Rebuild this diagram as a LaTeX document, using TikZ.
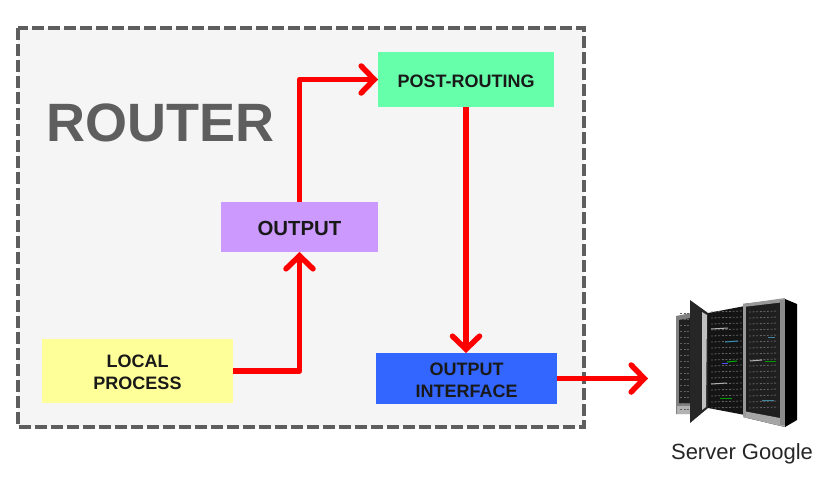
\documentclass[tikz,border=0pt]{standalone}
\usepackage{fontspec}
\setmainfont{Liberation Sans}
\usetikzlibrary{arrows.meta,positioning}
\definecolor{rbg}{HTML}{F5F5F5}
\definecolor{rdash}{HTML}{5E5E5E}
\definecolor{ylw}{HTML}{FFFF99}
\definecolor{pur}{HTML}{CC99FF}
\definecolor{grn}{HTML}{66FFAA}
\definecolor{blu}{HTML}{3366FF}
\definecolor{arrred}{HTML}{FF0000}
\tikzset{
 x=1pt,y=-1pt,
 routerbox/.style={draw=rdash,fill=rbg,line width=3.6pt,dash pattern=on 12pt off 4pt},
 stagebox/.style={anchor=north west,inner sep=0pt,outer sep=0pt,text=black!90},
 flow/.style={draw=arrred,line width=5.5pt,line join=round,-{Straight Barb[length=13pt,width=27pt,line width=5.5pt,line cap=round]}},
 led/.style={line width=1pt},
 rackrow/.style={line width=.8pt,black!62,dash pattern=on 2pt off 1.6pt},
}
\newcommand{\stage}[7]{\node[stagebox,fill=#2,minimum width=#5pt,minimum height=#6pt] (#1) at (#3,#4) {\raisebox{-1.4pt}[\height][\depth]{\parbox{150pt}{\centering\bfseries\fontsize{18}{22}\selectfont #7}}};}
\begin{document}
\begin{tikzpicture}
\useasboundingbox (0,0) rectangle (832,496);
\draw[routerbox] (18,28) rectangle (584,427);
\node[anchor=base west,inner sep=0pt,text=rdash,font=\fontsize{54}{60}\selectfont\bfseries] (router) at (46.5,141) {ROUTER};
\stage{local}{ylw}{42}{339}{191}{64}{LOCAL\\PROCESS}
\stage{output}{pur}{221}{202}{157}{50}{\fontsize{20.4}{24}\selectfont OUTPUT}
\stage{post}{grn}{378}{52}{176}{55}{POST-ROUTING}
\stage{iface}{blu}{376}{353}{181}{51}{OUTPUT\\INTERFACE}
\coordinate (srv) at (648,378.5);
\draw[flow] (local.east) -| (output.south);
\draw[flow] (output.north) |- (post.west);
\draw[flow] (post.south) -- (post.south |- iface.north);
\draw[flow] (iface.east) -- (srv);
% server
\fill[black!50] (676,316) -- (691,313) -- (691,414) -- (676,414) -- cycle;
\fill[black!88] (679,320) -- (691,318) -- (691,403) -- (679,403) -- cycle;
\fill[black!30] (677,406) rectangle (691,414);
\fill[black!92] (708,313) -- (745,306) -- (745,415) -- (708,408) -- cycle;
\fill[black!88] (743,304) -- (785,299) -- (785,427) -- (743,417) -- cycle;
\fill[black!40] (743,304) -- (785,298) -- (785,302) -- (743,307) -- cycle;
\fill[black!35] (743,411) -- (780,418) -- (785,421) -- (785,427) -- (743,417) -- cycle;
\fill[black!45] (780,300) rectangle (785,425);
\fill[black!40] (743,305) rectangle (746,416);
\foreach \yy in {312,318,...,408}{
 \draw[rackrow] (711,\yy) -- (742,\yy-1);
 \draw[rackrow] (749,\yy) -- (778,\yy-1);
 \draw[rackrow] (680,\yy+1) -- (690,\yy+1);
}
\fill[black!85] (690,300) -- (708,313) -- (708,408) -- (690,423) -- cycle;
\fill[black!25] (702,312) -- (707,315) -- (706,407) -- (702,410) -- cycle;
\fill[black] (785,299) -- (797,304) -- (797,420) -- (785,427) -- cycle;
\draw[led,black!30] (711,329) -- (728,328);
\draw[led,black!30] (711,384) -- (727,383);
\draw[led,cyan!70!black] (725,342) -- (738,341);
\draw[led,green!70!black] (727,362) -- (737,361);
\draw[led,blue!70!white] (722,363) -- (728,363);
\draw[led,black!30] (750,361) -- (762,360);
\draw[led,green!60!black] (765,361) -- (776,361);
\draw[led,cyan!60!black] (768,337) -- (775,337);
\draw[led,cyan!60!black] (762,400) -- (774,400);
\draw[led,green!60!black] (720,398) -- (732,398);
\node[anchor=base,inner sep=0pt,font=\fontsize{22}{24}\selectfont,text=black!85] (srvlabel) at (742,459) {Server Google};
\end{tikzpicture}
\end{document}
